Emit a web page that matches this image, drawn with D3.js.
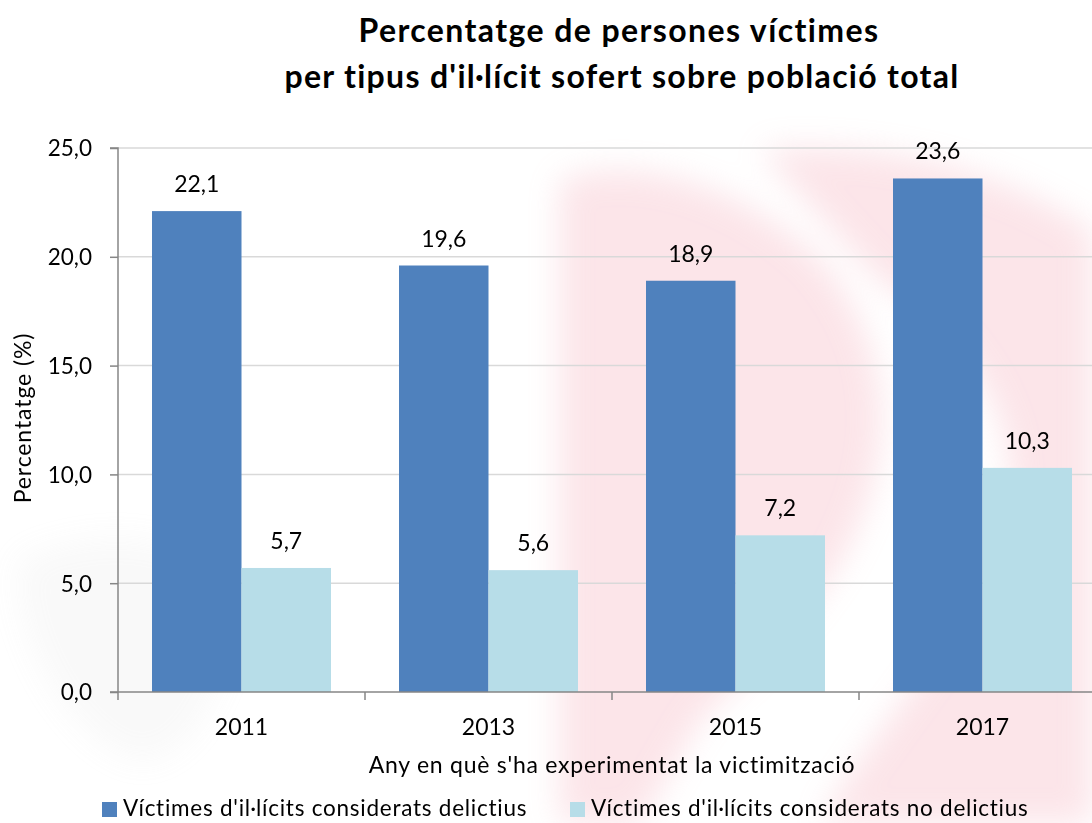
<!DOCTYPE html>
<html><head><meta charset="utf-8">
<script src="https://cdn.jsdelivr.net/npm/d3@7"></script>
<style>body{margin:0;background:#fff}svg{display:block}text{font-family:Lato,"Open Sans",sans-serif}</style>
</head><body><svg id="c" width="1092" height="823"></svg>
<script>
const years = ["2011","2013","2015","2017"];
const delictius = [22.1,19.6,18.9,23.6];
const noDelictius = [5.7,5.6,7.2,10.3];
const seriesNames = ["Víctimes d'il·lícits considerats delictius","Víctimes d'il·lícits considerats no delictius"];
const yTicks = [0,5,10,15,20,25];
const colors = ["#4f81bd","#b7dde8"];

const svg = d3.select("#c");
const W=1092,H=823;
const m={left:118,top:148,right:1106,bottom:692};
const fmt=d=>d3.format(".1f")(d).replace(".",",");

// faint watermark
const defs=svg.append("defs");
defs.append("filter").attr("id","blur").append("feGaussianBlur").attr("stdDeviation",16);
const wm=svg.append("g").attr("filter","url(#blur)").attr("opacity",0.3);
wm.append("path").attr("d","M560,180 C650,150 760,200 820,260 C880,330 900,420 860,520 C830,600 760,660 700,720 L640,823 L560,823 Z").attr("fill","#f4a7b5");
wm.append("path").attr("d","M760,150 C880,140 1000,170 1092,230 L1092,823 L820,823 C880,720 960,640 1000,540 C1040,430 960,330 880,280 Z").attr("fill","#f4a7b5");
wm.append("path").attr("d","M20,560 C120,520 200,540 230,600 C240,650 200,760 140,760 C80,750 10,640 20,560 Z").attr("fill","#ccc").attr("opacity",0.4);

const y=d3.scaleLinear().domain([0,25]).range([m.bottom,m.top]);
const step=(m.right-m.left)/years.length;
const pad=34, bw=(step-2*pad)/2;
const xs=d3.scalePoint().domain(years).range([m.left+step/2,m.right-step/2]);

// gridlines
svg.append("g").selectAll("line").data(yTicks.filter(t=>t>0)).join("line")
 .attr("x1",m.left).attr("x2",W).attr("y1",d=>y(d)).attr("y2",d=>y(d))
 .attr("stroke","#d9d9d9").attr("stroke-width",1.5);

[delictius,noDelictius].forEach((vals,si)=>{
  const g=svg.append("g");
  g.selectAll("rect").data(vals).join("rect")
   .attr("x",(d,i)=>xs(years[i])-bw+si*bw).attr("width",bw)
   .attr("y",d=>y(d)).attr("height",d=>y(0)-y(d)).attr("fill",colors[si]);
  g.selectAll("text").data(vals).join("text")
   .attr("x",(d,i)=>xs(years[i])-bw/2+si*bw).attr("y",d=>y(d)-19)
   .attr("text-anchor","middle").attr("font-size",23).attr("fill","#000")
   .text(fmt);
});

// y axis
const ya=svg.append("g").attr("transform",`translate(${m.left},0)`)
 .call(d3.axisLeft(y).tickValues(yTicks).tickSize(8).tickPadding(18).tickFormat(fmt));
ya.select(".domain").attr("stroke","#868686").attr("stroke-width",1.5).attr("d",`M-8,${m.top}H0V${m.bottom}`);
ya.selectAll(".tick line").attr("stroke","#868686").attr("stroke-width",1.5);
ya.selectAll(".tick text").attr("font-size",22.5).attr("fill","#000").attr("font-family","Lato").attr("dy","0.35em");

// x axis
const xa=svg.append("g").attr("transform",`translate(0,${m.bottom})`);
xa.append("line").attr("x1",m.left-8).attr("x2",W).attr("stroke","#868686").attr("stroke-width",1.5);
const bounds=d3.range(years.length+1).map(i=>m.left+i*step);
xa.selectAll("line.t").data(bounds).join("line").attr("class","t")
 .attr("x1",d=>d).attr("x2",d=>d).attr("y1",0).attr("y2",8).attr("stroke","#868686").attr("stroke-width",1.5);
xa.selectAll("text").data(years).join("text").attr("x",d=>xs(d)).attr("y",43)
 .attr("text-anchor","middle").attr("font-size",23).attr("fill","#000").text(d=>d);

// titles
svg.append("text").attr("x",619).attr("y",42).attr("text-anchor","middle").attr("font-size",32).attr("font-weight","bold").attr("letter-spacing",1.4).text("Percentatge de persones víctimes");
svg.append("text").attr("x",622).attr("y",88).attr("text-anchor","middle").attr("font-size",32).attr("font-weight","bold").attr("letter-spacing",1.3).text("per tipus d'il·lícit sofert sobre població total");
svg.append("text").attr("transform","translate(31,418) rotate(-90)").attr("text-anchor","middle").attr("font-size",23).attr("letter-spacing",0.9).text("Percentatge (%)");
svg.append("text").attr("x",612).attr("y",773).attr("text-anchor","middle").attr("font-size",23).attr("letter-spacing",0.75).text("Any en què s'ha experimentat la victimització");

// legend
const lg=svg.append("g");
const lx=[102,570];
seriesNames.forEach((n,i)=>{
  lg.append("rect").attr("x",lx[i]).attr("y",802).attr("width",15).attr("height",15).attr("fill",colors[i]);
  lg.append("text").attr("x",lx[i]+21).attr("y",816).attr("font-size",22.5).attr("letter-spacing",0.75).text(n);
});
</script></body></html>
